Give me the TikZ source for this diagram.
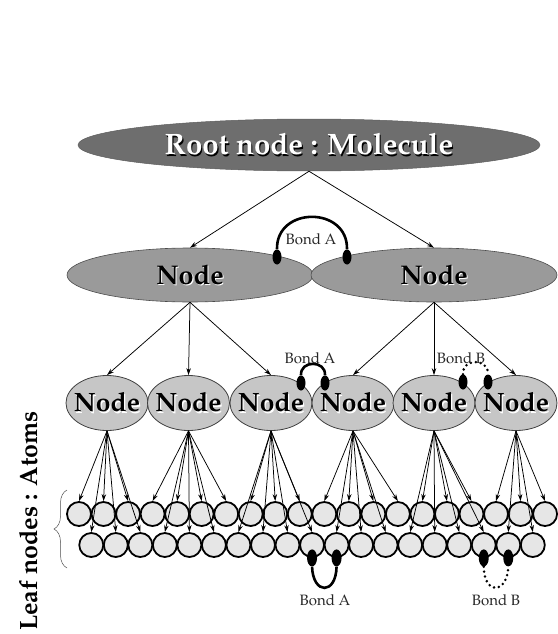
\documentclass[tikz,border=0pt]{standalone}
\usepackage[T1]{fontenc}
\usepackage{mathpazo}
\usetikzlibrary{shapes.geometric,arrows.meta,decorations.pathreplacing}
\definecolor{rootgray}{HTML}{6E6E6E}
\definecolor{midgray}{HTML}{9A9A9A}
\definecolor{lvltwogray}{HTML}{C6C6C6}
\definecolor{atomgray}{HTML}{E6E6E6}
\newcommand\embossed[3]{\makebox[0pt]{\rlap{\kern1.2pt\raisebox{-1.2pt}{\color{#1}#3}}{\color{#2}#3}}}
\tikzset{
  rootnode/.style={ellipse, fill=rootgray, draw=rootgray!85!black, line width=0.5pt,
    minimum width=462pt, minimum height=52pt, inner sep=0pt,
    font=\fontsize{29.5}{31}\selectfont\bfseries},
  levelone/.style={ellipse, fill=midgray, draw=black!70, line width=0.6pt,
    minimum width=246pt, minimum height=54pt, inner sep=0pt,
    font=\fontsize{27}{29}\selectfont\bfseries},
  leveltwo/.style={ellipse, fill=lvltwogray, draw=black!75, line width=0.8pt,
    minimum width=82pt, minimum height=55pt, inner sep=0pt,
    font=\fontsize{26.5}{28}\selectfont\bfseries},
  atom/.style={circle, fill=atomgray, draw=black, line width=1.8pt,
    minimum size=24pt, inner sep=0pt},
  bonddot/.style={ellipse, fill=black, minimum width=9pt, minimum height=15pt, inner sep=0pt},
  arr/.style={-{Stealth[length=7pt,width=4.5pt]}, line width=0.75pt},
  bondsolid/.style={line width=2.6pt},
  bonddotted/.style={line width=2.8pt, line cap=round, dash pattern=on 0pt off 5pt},
  bondlabel/.style={font=\fontsize{15}{16}\selectfont, text=black!85, inner sep=0pt},
  sidelabel/.style={font=\fontsize{25}{27}\selectfont\bfseries, rotate=90, anchor=base, inner sep=0pt}
}
\begin{document}
\begin{tikzpicture}[x=1pt,y=-1pt]
\useasboundingbox (0,0) rectangle (557,634);

% root and level one
\node[rootnode] (root) at (309,145) {\embossed{black}{white}{Root node : Molecule}};
\node[levelone] (la) at (190,275) {\embossed{white}{black}{Node}};
\node[levelone] (lb) at (434,275) {\embossed{white}{black}{Node}};

% level two
\foreach \n/\x in {1/107,2/188.5,3/271,4/353,5/434,6/516}{
  \node[leveltwo] (m\n) at (\x,403) {\embossed{white}{black}{Node}};
}

% atoms
\foreach \i in {0,...,19}{
  \pgfmathsetmacro\ax{79+24.53*\i}
  \node[atom] (t\i) at (\ax,514) {};
}
\foreach \k in {0,...,18}{
  \pgfmathsetmacro\bx{91.27+24.53*\k}
  \node[atom] (b\k) at (\bx,545) {};
}

% arrows root -> level one
\draw[arr] (root.south) -- (la.north);
\draw[arr] (root.south) -- (lb.north);
% level one -> level two
\foreach \n in {1,2,3}{\draw[arr] (la.south) -- (m\n.north);}
\foreach \n in {4,5,6}{\draw[arr] (lb.south) -- (m\n.north);}

% level two -> atoms
\foreach \m/\tl in {1/{t0,t1,t2,b0,b1,b2},
                    2/{t3,t4,t5,t6,b3,b4,b5},
                    3/{t7,t8,t9,b6,b7,b8,b9},
                    4/{t10,t11,t12,t13,b10,b11,b12},
                    5/{t14,t15,t16,b13,b14,b15,b16},
                    6/{t17,t18,t19,b17,b18}}{
  \foreach \a in \tl {\draw[arr] (m\m.south) -- (\a.north);}
}

% bond between level one nodes
\node[bonddot] (da1) at (277,257) {};
\node[bonddot] (da2) at (347,257) {};
\draw[bondsolid] (da1.north) .. controls (276,206) and (348,206) .. (da2.north);
\node[bondlabel] (lab1) at (311,239) {Bond A};

% bonds between level two nodes
\node[bonddot] (db1) at (301,383) {};
\node[bonddot] (db2) at (325,383) {};
\draw[bondsolid] (db1.north) .. controls (300,360) and (326,360) .. (db2.north);
\node[bondlabel] (lab2) at (310,358) {Bond A};

\node[bonddot] (dc1) at (463,382) {};
\node[bonddot] (dc2) at (488,382) {};
\draw[bonddotted] (dc1.north) .. controls (462,358) and (489,358) .. (dc2.north);
\node[bondlabel] (lab3) at (461,358) {Bond B};

% bonds between atoms
\node[bonddot, minimum width=10pt, minimum height=17pt] (dd1) at (b9.south) {};
\node[bonddot, minimum width=10pt, minimum height=17pt] (dd2) at (b10.south) {};
\draw[bondsolid] (dd1.south) .. controls (313,595) and (336,595) .. (dd2.south);
\node[bondlabel] (lab4) at (325,600) {Bond A};

\node[bonddot, minimum width=10pt, minimum height=17pt] (de1) at (b16.south) {};
\node[bonddot, minimum width=10pt, minimum height=17pt] (de2) at (b17.south) {};
\draw[bonddotted] (de1.south) .. controls (484,595) and (507,595) .. (de2.south);
\node[bondlabel] (lab5) at (496,600) {Bond B};

% brace and side label
\coordinate (brb) at (67,568);
\coordinate (brt) at (67,490);
\draw[decorate, decoration={brace, amplitude=13pt}, line width=0.5pt, black!70] (brb) -- (brt);
\node[sidelabel] (side) at (37,521) {Leaf nodes : Atoms};
\end{tikzpicture}
\end{document}
